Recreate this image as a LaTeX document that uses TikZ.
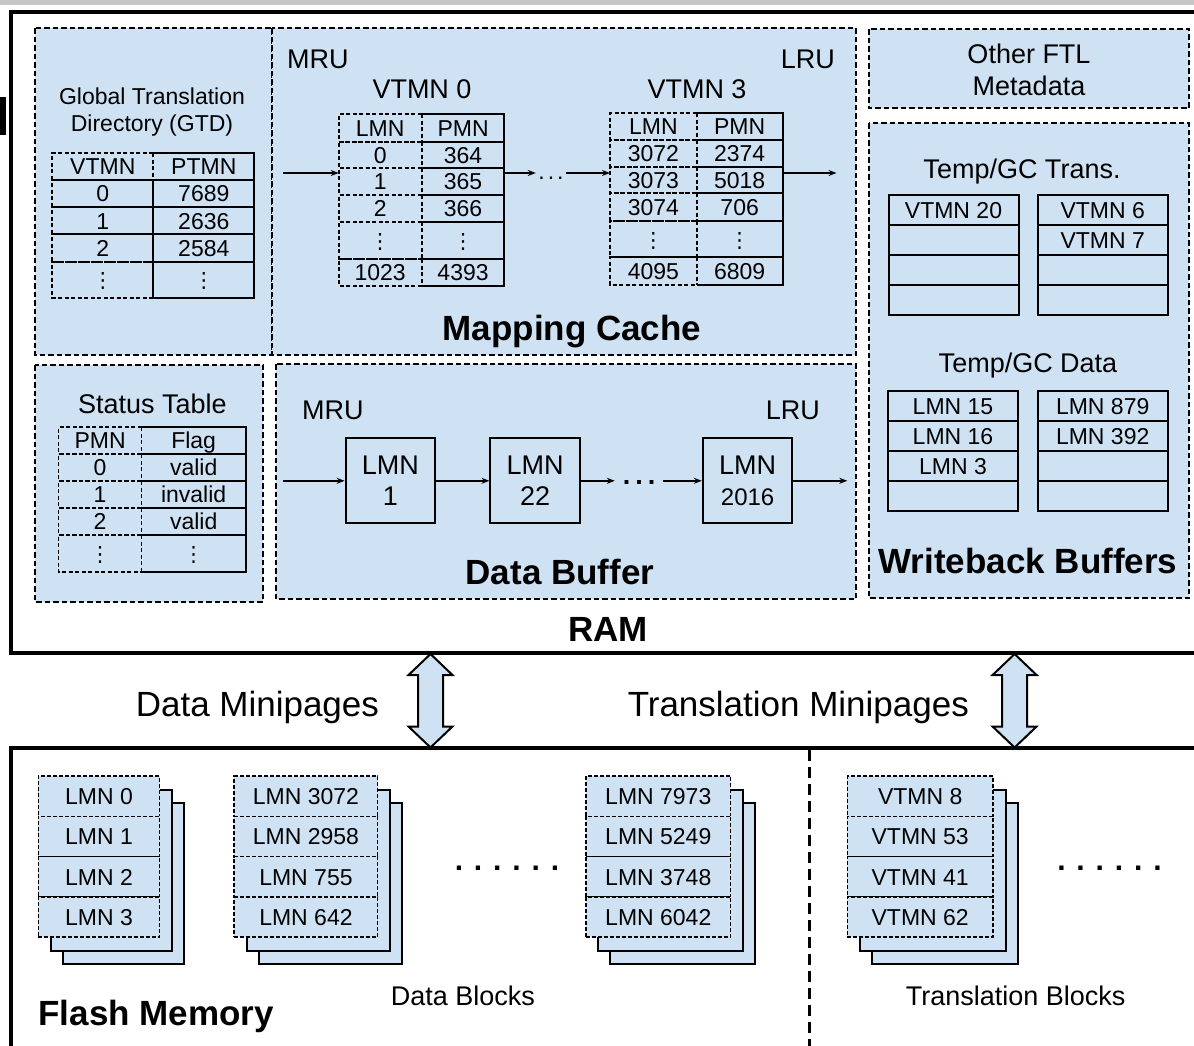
\documentclass[tikz,border=0pt]{standalone}
\usepackage{fontspec}
\setmainfont{Liberation Sans}
\newfontfamily\dejavu{DejaVu Sans}
\usetikzlibrary{arrows.meta}
\definecolor{lb}{HTML}{CFE2F3}
\newcommand{\mySmall}{\fontsize{23}{26}\selectfont}
\newcommand{\myMid}{\fontsize{27}{31}\selectfont}
\newcommand{\myLarge}{\fontsize{35}{40}\selectfont}
\newcommand{\myTitle}{\fontsize{35}{40}\selectfont\bfseries}
\newcommand{\vdts}{{\dejavu\fontsize{21}{24}\selectfont ⋮}}
% table row: #1 name, #2 x0, #3 xm, #4 x1, #5 ya, #6 yb, #7 left, #8 right, #9 divider dashed(1)/solid(0)
\newcommand{\trow}[9]{%
  \draw[tsolid] (#3,#5) -- (#4,#5) -- (#4,#6) -- (#3,#6);
  \ifnum#9=1 \draw[tdash] (#3,#5) -- (#3,#6);\else\draw[tsolid] (#3,#5) -- (#3,#6);\fi
  \draw[tdash] (#3,#5) -- (#2,#5) -- (#2,#6) -- (#3,#6);
  \node[cell] (#1L) at ({(#2+#3)/2},{(#5+#6)/2}) {#7};
  \node[cell] (#1R) at ({(#3+#4)/2},{(#5+#6)/2}) {#8};}
% writeback column
\newcommand{\wcol}[7]{%
  \node[wcell] (#1a) at (#2,{#3+15.05}) {#4};
  \node[wcell] (#1b) at (#2,{#3+45.15}) {#5};
  \node[wcell] (#1c) at (#2,{#3+75.25}) {#6};
  \node[wcell] (#1d) at (#2,{#3+105.35}) {#7};}
% flash block stack
\newcommand{\fstack}[7]{%
  \draw[backr] ({#2+24.5},803) rectangle ({#2+24.5+#3},964.3);
  \draw[backr] ({#2+12.5},790) rectangle ({#2+12.5+#3},951.3);
  \node[fcell,minimum width=#3] (#1a) at ({#2+#3/2},796.15) {#4};
  \node[fcell,minimum width=#3] (#1b) at ({#2+#3/2},836.45) {#5};
  \node[fcell,minimum width=#3] (#1c) at ({#2+#3/2},876.75) {#6};
  \node[fcell,minimum width=#3] (#1d) at ({#2+#3/2},917.05) {#7};}
\begin{document}
\begin{tikzpicture}[x=1pt,y=-1pt,
  panel/.style={draw,fill=lb,line width=1.8pt,dash pattern=on 5.5pt off 3pt},
  tsolid/.style={line width=2pt},
  tdash/.style={line width=1.7pt,dash pattern=on 4pt off 2.5pt},
  cell/.style={font=\mySmall,inner sep=0pt,text height=16.5pt,text depth=0pt},
  txS/.style={font=\mySmall,inner sep=0pt,text height=16.5pt,text depth=0pt},
  txM/.style={font=\myMid,inner sep=0pt,text height=19.3pt,text depth=0pt},
  txL/.style={font=\myLarge,inner sep=0pt,text height=25pt,text depth=0pt},
  txT/.style={font=\myTitle,inner sep=0pt,text height=25pt,text depth=0pt},
  arr/.style={line width=1.5pt,-{Stealth[length=8pt,width=6pt]}},
  lmnbox/.style={draw,line width=2pt,minimum width=89.5pt,minimum height=85pt,inner sep=0pt,font=\myMid,align=center},
  wcell/.style={draw,line width=2pt,minimum width=130pt,minimum height=30.1pt,inner sep=0pt,font=\mySmall,text height=16.5pt,text depth=0pt},
  fcell/.style={draw,fill=lb,line width=1.5pt,dash pattern=on 4pt off 2pt,minimum height=40.3pt,inner sep=0pt,font=\mySmall,text height=16.5pt,text depth=0pt},
  backr/.style={draw,fill=lb,line width=2pt},
  bigarr/.style={draw,fill=lb,line width=2pt,line join=miter},
  dotn/.style={inner sep=0pt,text height=0pt,text depth=0pt},
]
\useasboundingbox (0,0) rectangle (1194,1045);
\begin{scope}
\clip (0,0) rectangle (1194,1045);
\fill[white] (0,0) rectangle (1194,1045);
\fill[gray!45] (0,0) rectangle (1194,5);
\fill[black] (0,97) rectangle (6,135);

% ===== RAM =====
\draw[line width=3.5pt] (1230,12) -- (11,12) -- (11,653) -- (1230,653);

% panels
\draw[panel] (35,28) rectangle (272,355);
\draw[panel] (272,28) rectangle (856,355);
\draw[panel] (869,29.3) rectangle (1189,108.3);
\draw[panel] (869,123.3) rectangle (1189,598.3);
\draw[panel] (35,365) rectangle (263.3,601.7);
\draw[panel] (276.3,364) rectangle (856,599.3);

% GTD
\node[txS] (gtd1) at (152,95.8) {Global Translation};
\node[txS] (gtd2) at (152,123) {Directory (GTD)};
\foreach \ya/\yb/\l/\r/\dv [count=\i] in {153.3/180/VTMN/PTMN/1, 180/207.3/0/7689/0, 207.3/234.3/1/2636/0, 234.3/261.7/2/2584/0, 261.7/297.7/\vdts/\vdts/0}
  {\trow{gtd\i}{52.3}{153.3}{254.3}{\ya}{\yb}{\l}{\r}{\dv}}

% Mapping cache
\node[txM,anchor=west] (mru1) at (287,59) {MRU};
\node[txM,anchor=east] (lru1) at (835,59) {LRU};
\node[txM] (v0) at (422,89) {VTMN 0};
\node[txM] (v3) at (697,89) {VTMN 3};
\foreach \ya/\yb/\l/\r [count=\i] in {114.3/141.7/LMN/PMN, 141.7/168.3/0/364, 168.3/195/1/365, 195/221.7/2/366, 221.7/259.3/\vdts/\vdts, 259.3/286/1023/4393}
  {\trow{va\i}{338.7}{421.7}{504.4}{\ya}{\yb}{\l}{\r}{1}}
\foreach \ya/\yb/\l/\r [count=\i] in {113.3/140/LMN/PMN, 140/166.7/3072/2374, 166.7/193.3/3073/5018, 193.3/221/3074/706, 221/257.3/\vdts/\vdts, 257.3/285/4095/6809}
  {\trow{vb\i}{610}{696.7}{782.6}{\ya}{\yb}{\l}{\r}{1}}
\coordinate (mcin) at (283,173);
\coordinate (t0in) at (338.7,173);
\coordinate (t0out) at (504.4,173);
\coordinate (t3in) at (610,173);
\coordinate (t3out) at (782.6,173);
\coordinate (mcout) at (836.5,173);
\node[dotn,minimum width=30pt] (md) at (551,173) {\raisebox{-6pt}[0pt][0pt]{\mySmall .\hskip3pt.\hskip3pt.}};
\draw[arr] (mcin) -- (t0in);
\draw[arr] (t0out) -- (md);
\draw[arr] (md) -- (t3in);
\draw[arr] (t3out) -- (mcout);
\node[txT] (mct) at (572,327.5) {Mapping Cache};

% Other FTL
\node[txM] (of1) at (1029,54) {Other FTL};
\node[txM] (of2) at (1029,85.8) {Metadata};

% Writeback buffers
\node[txM] (tgt) at (1022,169) {Temp/GC Trans.};
\wcol{tl}{953.5}{195}{VTMN 20}{}{}{}
\wcol{tr}{1102.7}{195}{VTMN 6}{VTMN 7}{}{}
\node[txM] (tgd) at (1028,362.5) {Temp/GC Data};
\wcol{dl}{953}{390.7}{LMN 15}{LMN 16}{LMN 3}{}
\wcol{dr}{1102.7}{390.7}{LMN 879}{LMN 392}{}{}
\node[txT] (wbt) at (1028,560.5) {Writeback Buffers};

% Status table
\node[txM] (stt) at (152.3,403.5) {Status Table};
\foreach \ya/\yb/\l/\r [count=\i] in {427.3/454/PMN/Flag, 454/481/0/valid, 481/508/1/invalid, 508/535/2/valid, 535/571.7/\vdts/\vdts}
  {\trow{st\i}{58.6}{141.6}{245.7}{\ya}{\yb}{\l}{\r}{1}}

% Data buffer
\node[txM,anchor=west] (mru2) at (302,410) {MRU};
\node[txM,anchor=east] (lru2) at (820,410) {LRU};
\coordinate (dbin) at (283,480.8);
\coordinate (dbout) at (847.3,480.8);
\node[lmnbox] (b1) at (390.35,480.8) {LMN\\1};
\node[lmnbox] (b2) at (535.2,480.8) {LMN\\22};
\node[lmnbox] (b3) at (747.6,480.8) {LMN\\{\fontsize{24}{31}\selectfont 2016}};
\node[dotn,minimum width=48pt] (dbd) at (639,480.8) {\raisebox{-4pt}[0pt][0pt]{\myMid\bfseries .\hskip5pt.\hskip5pt.}};
\draw[arr] (dbin) -- (b1);
\draw[arr] (b1) -- (b2);
\draw[arr] (b2) -- (dbd);
\draw[arr] (dbd) -- (b3);
\draw[arr] (b3) -- (dbout);
\node[txT] (dbt) at (560,571.5) {Data Buffer};

\node[txT] (ramt) at (608,629) {RAM};

% ===== Flash =====
\draw[line width=3.5pt] (1230,748) -- (11,748) -- (11,1060);
\coordinate (sepT) at (809,750);
\coordinate (sepB) at (809,1050);
\draw[line width=3pt,dash pattern=on 11pt off 6pt] (sepT) -- (sepB);

\fstack{fa}{38.3}{121.3}{LMN 0}{LMN 1}{LMN 2}{LMN 3}
\fstack{fb}{234.2}{143.5}{LMN 3072}{LMN 2958}{LMN 755}{LMN 642}
\fstack{fc}{585.9}{144.8}{LMN 7973}{LMN 5249}{LMN 3748}{LMN 6042}
\fstack{fd}{847.4}{145.6}{VTMN 8}{VTMN 53}{VTMN 41}{VTMN 62}

\node[inner sep=0pt,text height=4pt,text depth=0pt,font=\fontsize{30}{34}\selectfont\bfseries] (fdots1) at (507,868) {.\hskip10.9pt.\hskip10.9pt.\hskip10.9pt.\hskip10.9pt.\hskip10.9pt.};
\node[inner sep=0pt,text height=4pt,text depth=0pt,font=\fontsize{30}{34}\selectfont\bfseries] (fdots2) at (1109.5,868) {.\hskip10.9pt.\hskip10.9pt.\hskip10.9pt.\hskip10.9pt.\hskip10.9pt.};

\node[txM] (dbl) at (463,996) {Data Blocks};
\node[txM] (tbl) at (1015.6,996) {Translation Blocks};
\node[txT,anchor=west] (fmt) at (38.3,1012.5) {Flash Memory};

% ===== transfers =====
\node[txL] (dmp) at (257.4,704) {Data Minipages};
\node[txL] (tmp) at (798.3,704) {Translation Minipages};
\coordinate (ra1) at (430.5,654);
\coordinate (fa1) at (430.5,747.5);
\coordinate (ra2) at (1014.6,654);
\coordinate (fa2) at (1014.6,747.5);
\draw[bigarr] (ra1) -- ++(22,21) -- ++(-9.5,0) -- ++(0,51.5) -- ++(9.5,0) -- (fa1) -- ++(-22,-21) -- ++(9.5,0) -- ++(0,-51.5) -- ++(-9.5,0) -- cycle;
\draw[bigarr] (ra2) -- ++(22,21) -- ++(-9.5,0) -- ++(0,51.5) -- ++(9.5,0) -- (fa2) -- ++(-22,-21) -- ++(9.5,0) -- ++(0,-51.5) -- ++(-9.5,0) -- cycle;
\end{scope}
\end{tikzpicture}
\end{document}
